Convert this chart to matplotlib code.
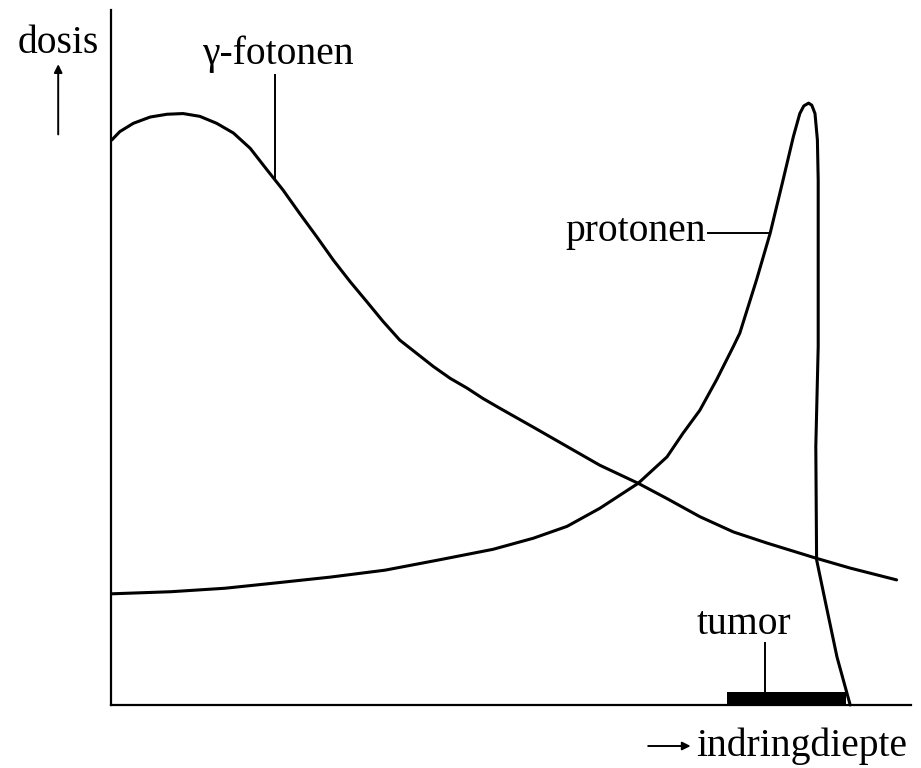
import matplotlib
matplotlib.use("Agg")
import matplotlib.pyplot as plt

# depth (0-100) and dose (0-100)
gamma_depth = [0.1, 1.1, 2.8, 4.9, 7.0, 9.0, 11.1, 13.2, 15.3, 17.4, 19.5, 21.5, 23.6,
               25.7, 27.8, 29.9, 32.0, 34.0, 36.1, 38.2, 40.3, 42.4, 44.5, 46.5, 48.6,
               52.75, 57.0, 61.1, 65.9, 69.5, 73.6, 77.8, 82.0, 88.2, 92.4, 98.2]
gamma_dose = [81.3, 82.5, 83.7, 84.6, 85.0, 85.1, 84.7, 83.7, 82.3, 80.1, 77.0, 74.1, 70.7,
              67.4, 64.0, 60.9, 58.0, 55.2, 52.5, 50.6, 48.7, 47.0, 45.6, 44.1, 42.7,
              40.0, 37.2, 34.5, 31.9, 29.7, 27.1, 24.9, 23.3, 21.1, 19.7, 18.0]

proton_depth = [0.1, 7.5, 14.25, 20.9, 27.4, 34.25, 41.1, 47.75, 52.8, 57.0, 61.1, 65.9,
                69.5, 71.5, 73.6, 75.7, 77.8, 78.6, 80.7, 82.4, 84.0, 85.3, 86.1, 86.6,
                87.2, 87.6, 88.0, 88.3, 88.4, 88.4, 88.1, 88.2, 89.25, 90.75, 92.4]
proton_dose = [16.0, 16.3, 16.8, 17.6, 18.4, 19.4, 20.9, 22.4, 24.0, 25.7, 28.3, 31.9,
               35.7, 39.1, 42.4, 46.8, 51.6, 53.5, 61.2, 67.9, 75.5, 81.8, 85.1, 86.2,
               86.6, 86.3, 85.1, 81.3, 75.5, 51.6, 37.2, 20.9, 15.1, 6.9, 0]

tumor_start, tumor_end = 77.0, 91.9

FONT = "Liberation Serif"
FS = 28.5

fig = plt.figure(figsize=(9.21, 7.68), dpi=100)
ax = fig.add_axes([111 / 921, 63 / 768, 800 / 921, 695 / 768])
ax.set_xlim(0, 100)
ax.set_ylim(0, 100)
ax.set_xticks([])
ax.set_yticks([])
for side in ["top", "right"]:
    ax.spines[side].set_visible(False)
for side in ["left", "bottom"]:
    ax.spines[side].set_linewidth(1.6)
    ax.spines[side].set_color("black")

ax.plot(gamma_depth, gamma_dose, color="black", lw=2.2, solid_joinstyle="round",
        solid_capstyle="round", clip_on=False)
ax.plot(proton_depth, proton_dose, color="black", lw=2.2, solid_joinstyle="round",
        solid_capstyle="round", clip_on=False)

# tumor bar and label
ax.fill_between([tumor_start, tumor_end], 0, 1.9, color="black", lw=0)
ax.plot([81.75, 81.75], [1.9, 8.9], color="black", lw=1.4)
ax.text(79.1, 11.6, "tumor", family=FONT, fontsize=FS, ha="center", va="center")

# curve labels
ax.plot([20.5, 20.5], [75.8, 90.6], color="black", lw=1.4)
ax.text(20.9, 93.6, "γ-fotonen", family=FONT, fontsize=FS, ha="center", va="center")
ax.plot([74.6, 82.4], [67.9, 67.9], color="black", lw=1.4)
ax.text(74.4, 68.2, "protonen", family=FONT, fontsize=FS, ha="right", va="center")

# axis labels with arrows
ax.text(-6.6, 95.2, "dosis", family=FONT, fontsize=FS, ha="center", va="center")
ax.annotate("", xy=(-6.6, 92.6), xytext=(-6.6, 81.7), annotation_clip=False,
            arrowprops=dict(arrowstyle="-|>", color="black", lw=1.4, mutation_scale=12))
ax.text(73.2, -6.0, "indringdiepte", family=FONT, fontsize=FS, ha="left", va="center")
ax.annotate("", xy=(72.8, -5.9), xytext=(66.8, -5.9), annotation_clip=False,
            arrowprops=dict(arrowstyle="-|>", color="black", lw=1.4, mutation_scale=12))

fig.savefig("out.png", dpi=100)
